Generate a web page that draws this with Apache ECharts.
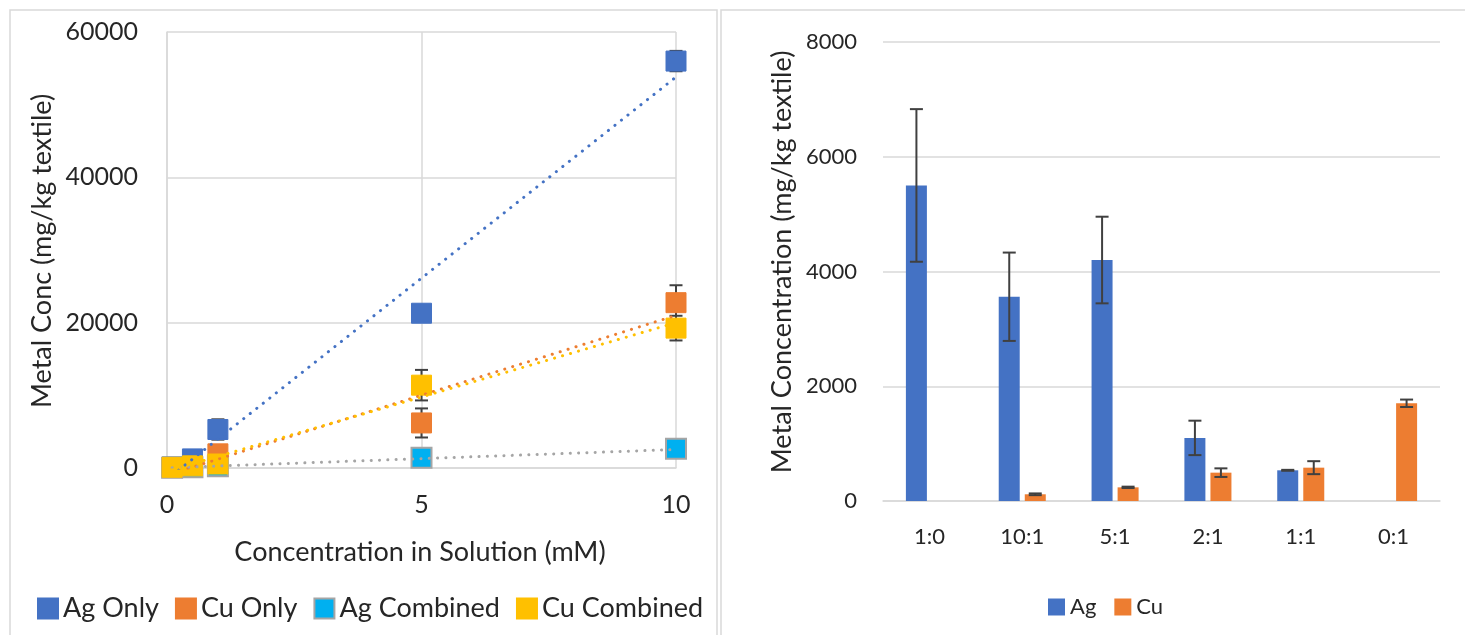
<!DOCTYPE html>
<html>
<head>
<meta charset="utf-8">
<script src="https://cdn.jsdelivr.net/npm/echarts@6/dist/echarts.min.js"></script>
<style>
html,body{margin:0;padding:0;background:#fff;}
#chart{width:1465px;height:635px;}
</style>
</head>
<body>
<div id="chart"></div>
<script>
// ---------- Left chart data (scatter with error bars) ----------
const concX = [0.1, 0.5, 1, 5, 10];
const xTicks = [0, 5, 10];
const agOnly = [150, 1250, 5300, 21300, 56000];
const agOnlyErr = [100, 300, 1400, 600, 1400];
const cuOnly = [50, 150, 1950, 6200, 22750];
const cuOnlyErr = [30, 100, 500, 2000, 2400];
const agComb = [30, 100, 250, 1400, 2650];
const agCombErr = [10, 30, 50, 200, 200];
const cuComb = [100, 300, 550, 11400, 19250];
const cuCombErr = [50, 100, 200, 2100, 1700];
// linear trendlines, endpoints
const agOnlyTrend = [[0.1, -1000], [10, 53800]];
const cuOnlyTrend = [[0.1, -760], [10, 21000]];
const agCombTrend = [[0.1, 50], [10, 2550]];
const cuCombTrend = [[0.1, -250], [10, 20000]];
const leftNames = ['Ag Only', 'Cu Only', 'Ag Combined', 'Cu Combined'];

// ---------- Right chart data (bars with error bars) ----------
const ratioCats = ['1:0', '10:1', '5:1', '2:1', '1:1', '0:1'];
const agValues = [5500, 3560, 4200, 1100, 535, null];
const agErrors = [1330, 770, 755, 300, 8, null];
const cuValues = [null, 117, 238, 494, 581, 1703];
const cuErrors = [null, 15, 12, 75, 113, 65];

const FONT = 'Lato';
const TXT = '#262626';
const GRID = '#d9d9d9';

function pts(xs, ys) { return xs.map((x, i) => [x, ys[i]]); }
function errPts(xs, ys, es) { return xs.map((x, i) => [x, ys[i] - es[i], ys[i] + es[i]]); }
function catErr(vals, errs) {
  const out = [];
  vals.forEach((v, i) => { if (v != null && errs[i] != null) out.push([i, v - errs[i], v + errs[i]]); });
  return out;
}

function makeErrRender(offset) {
  return function (params, api) {
    const x = api.value(0), lo = api.value(1), hi = api.value(2);
    const p1 = api.coord([x, hi]);
    const p2 = api.coord([x, lo]);
    const cx = p1[0] + offset;
    const hw = 6.5;
    const st = { stroke: '#404040', lineWidth: 2 };
    return {
      type: 'group',
      children: [
        { type: 'line', shape: { x1: cx, y1: p1[1], x2: cx, y2: p2[1] }, style: st },
        { type: 'line', shape: { x1: cx - hw, y1: p1[1], x2: cx + hw, y2: p1[1] }, style: st },
        { type: 'line', shape: { x1: cx - hw, y1: p2[1], x2: cx + hw, y2: p2[1] }, style: st }
      ]
    };
  };
}

const leftColors = ['#4472C4', '#ED7D31', '#00B0F0', '#FFC000'];
const leftBorders = ['#4472C4', '#ED7D31', '#A5A5A5', '#FFC000'];
const trendColors = ['#4472C4', '#ED7D31', '#A5A5A5', '#FFC000'];
const leftVals = [agOnly, cuOnly, agComb, cuComb];
const leftErrs = [agOnlyErr, cuOnlyErr, agCombErr, cuCombErr];
const leftTrends = [agOnlyTrend, cuOnlyTrend, agCombTrend, cuCombTrend];

const series = [];
// error bars (left)
leftVals.forEach((vals, k) => {
  series.push({
    type: 'custom', xAxisIndex: 0, yAxisIndex: 0, z: 2,
    renderItem: makeErrRender(0),
    data: errPts(concX, vals, leftErrs[k]),
    silent: true
  });
});
// markers (left)
leftVals.forEach((vals, k) => {
  series.push({
    name: leftNames[k], type: 'scatter', xAxisIndex: 0, yAxisIndex: 0, z: 3,
    symbol: 'rect', symbolSize: 20,
    itemStyle: { color: leftColors[k], borderColor: leftBorders[k], borderWidth: k === 2 ? 2 : 1, opacity: 1 },
    data: pts(concX, vals)
  });
});
// trendlines (left)
leftTrends.forEach((tr, k) => {
  series.push({
    type: 'line', xAxisIndex: 0, yAxisIndex: 0, z: 4,
    showSymbol: false, symbol: 'none', silent: true, clip: true,
    lineStyle: { color: trendColors[k], width: 3, type: [0.1, 8.2], cap: 'round' },
    data: tr
  });
});
// bars (right)
series.push({
  name: 'Ag', type: 'bar', xAxisIndex: 1, yAxisIndex: 1,
  barWidth: 21, barGap: '24%',
  itemStyle: { color: '#4472C4' },
  data: agValues
});
series.push({
  name: 'Cu', type: 'bar', xAxisIndex: 1, yAxisIndex: 1,
  barWidth: 21, barGap: '24%',
  itemStyle: { color: '#ED7D31' },
  data: cuValues
});
series.push({
  type: 'custom', xAxisIndex: 1, yAxisIndex: 1, z: 5, silent: true,
  renderItem: makeErrRender(-13), data: catErr(agValues, agErrors)
});
series.push({
  type: 'custom', xAxisIndex: 1, yAxisIndex: 1, z: 5, silent: true,
  renderItem: makeErrRender(13), data: catErr(cuValues, cuErrors)
});

const option = {
  animation: false,
  backgroundColor: '#ffffff',
  textStyle: { fontFamily: FONT, color: TXT },
  grid: [
    { left: 167, top: 32, width: 509, height: 436, containLabel: false },
    { left: 883, top: 42, width: 557, height: 459, containLabel: false }
  ],
  xAxis: [
    {
      gridIndex: 0, type: 'value', min: xTicks[0], max: xTicks[xTicks.length - 1], interval: 5,
      axisLine: { show: true, lineStyle: { color: GRID, width: 1.5 } },
      axisTick: { show: false },
      axisLabel: { fontFamily: FONT, fontSize: 25, color: TXT, margin: 24 },
      splitLine: { show: true, lineStyle: { color: GRID, width: 1.5 } }
    },
    {
      gridIndex: 1, type: 'category', data: ratioCats,
      axisLine: { show: true, lineStyle: { color: GRID, width: 1.5 } },
      axisTick: { show: false },
      axisLabel: { fontFamily: FONT, fontSize: 22, color: TXT, margin: 25 },
      splitLine: { show: false }
    }
  ],
  yAxis: [
    {
      gridIndex: 0, type: 'value', min: 0, max: 60000, interval: 20000,
      axisLine: { show: true, lineStyle: { color: GRID, width: 1.5 } },
      axisTick: { show: false },
      axisLabel: { fontFamily: FONT, fontSize: 25, color: TXT, margin: 29, formatter: v => String(v) },
      splitLine: { show: true, lineStyle: { color: GRID, width: 1.5 } }
    },
    {
      gridIndex: 1, type: 'value', min: 0, max: 8000, interval: 2000,
      axisLine: { show: false },
      axisTick: { show: false },
      axisLabel: { fontFamily: FONT, fontSize: 22, color: TXT, margin: 26, formatter: v => String(v) },
      splitLine: { show: true, lineStyle: { color: GRID, width: 1.5 } }
    }
  ],
  legend: [
    {
      data: leftNames, left: 32, top: 590, icon: 'rect', itemWidth: 20, itemHeight: 20, itemGap: 16,
      textStyle: { fontFamily: FONT, fontSize: 27, color: TXT, padding: [0, 0, 0, 0] }
    },
    {
      data: ['Ag', 'Cu'], left: 1043, top: 591, icon: 'rect', itemWidth: 17, itemHeight: 17, itemGap: 18,
      textStyle: { fontFamily: FONT, fontSize: 22, color: TXT }
    }
  ],
  graphic: [
    { type: 'rect', shape: { x: 10, y: 10, width: 707, height: 640 }, style: { fill: 'none', stroke: GRID, lineWidth: 1.5 }, silent: true },
    { type: 'rect', shape: { x: 721, y: 10, width: 760, height: 640 }, style: { fill: 'none', stroke: GRID, lineWidth: 1.5 }, silent: true },
    { type: 'text', x: 42, y: 251, rotation: Math.PI / 2, style: { text: 'Metal Conc (mg/kg textile)', font: '27px Lato', fill: TXT, textAlign: 'center', textVerticalAlign: 'middle' }, silent: true },
    { type: 'text', x: 420, y: 552, style: { text: 'Concentration in Solution (mM)', font: '27px Lato', fill: TXT, textAlign: 'center', textVerticalAlign: 'middle' }, silent: true },
    { type: 'text', x: 782, y: 262, rotation: Math.PI / 2, style: { text: 'Metal Concentration (mg/kg textile)', font: '27px Lato', fill: TXT, textAlign: 'center', textVerticalAlign: 'middle' }, silent: true }
  ],
  series: series
};

const chart = echarts.init(document.getElementById('chart'), null, { renderer: 'canvas' });
chart.setOption(option);
</script>
</body>
</html>
